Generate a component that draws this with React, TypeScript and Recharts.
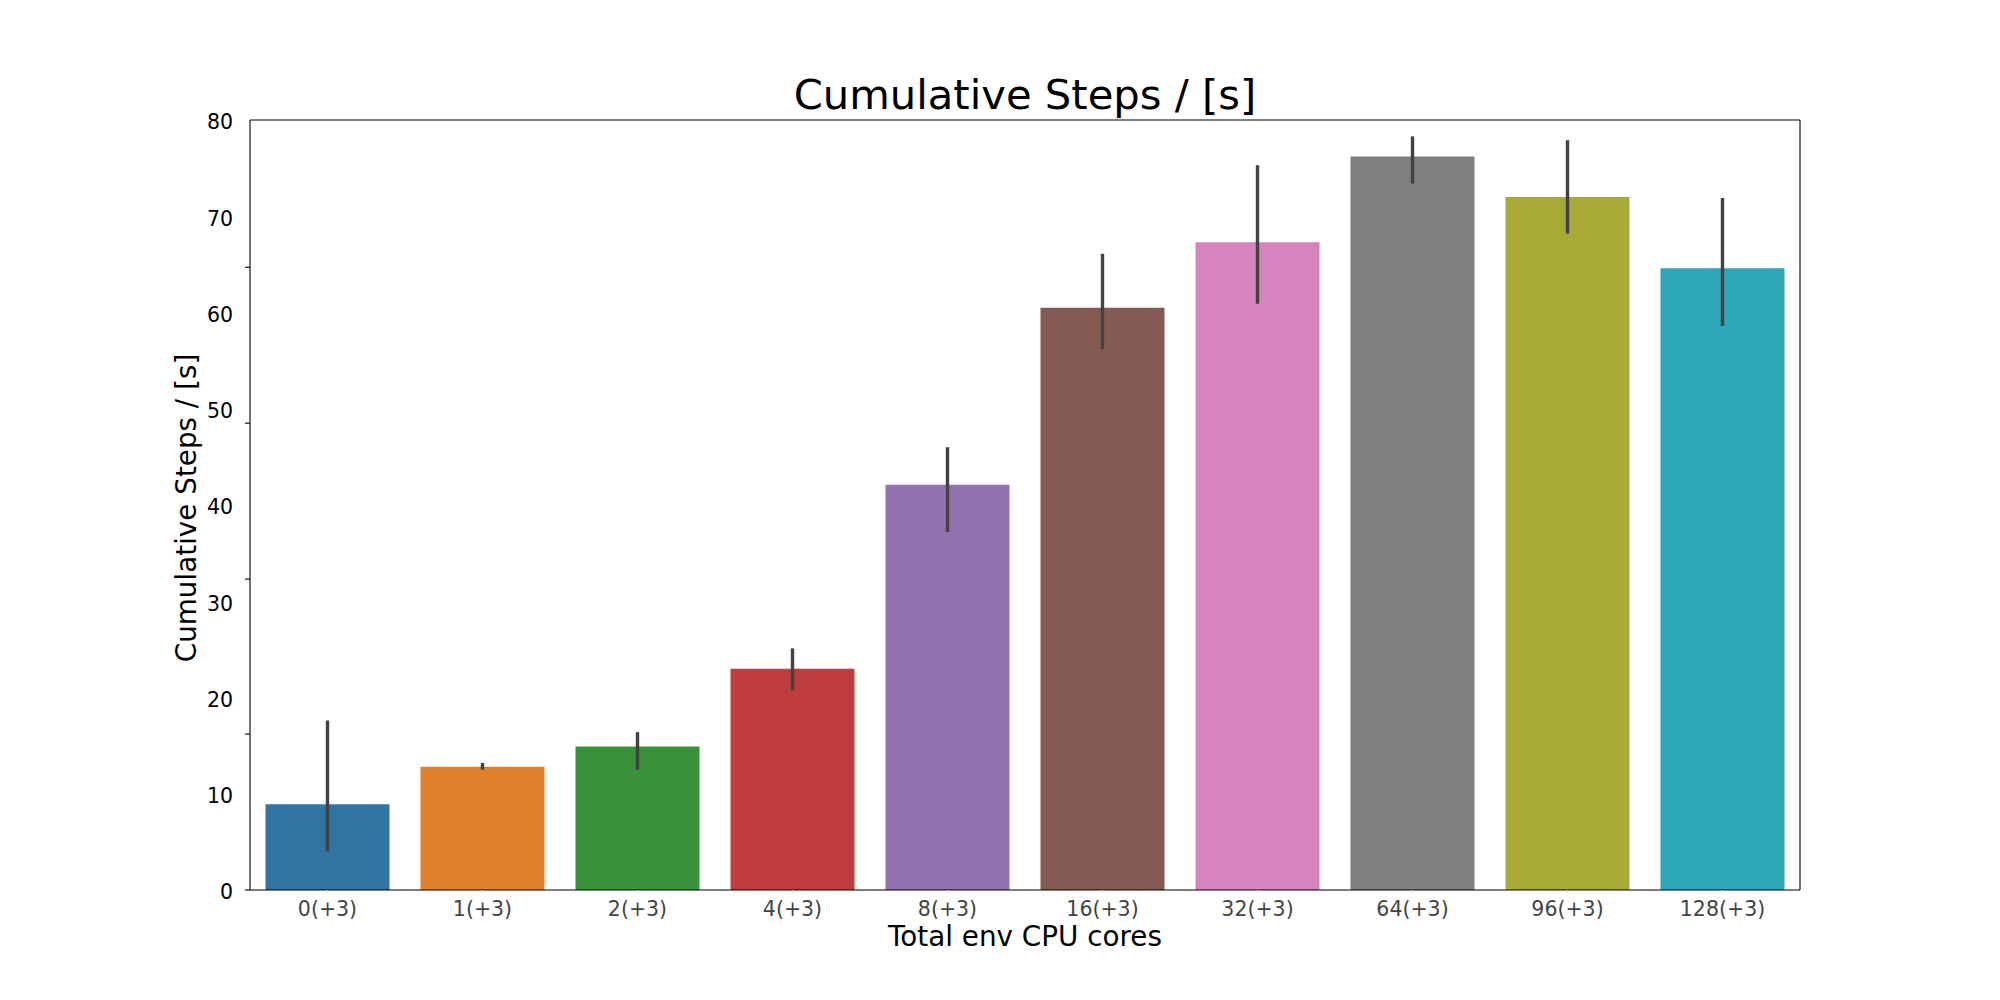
import React from "react";
import { Bar, BarChart, Cell, ErrorBar, Label, XAxis, YAxis } from "recharts";

const categories = [
  "0(+3)",
  "1(+3)",
  "2(+3)",
  "4(+3)",
  "8(+3)",
  "16(+3)",
  "32(+3)",
  "64(+3)",
  "96(+3)",
  "128(+3)",
];
const means = [8.9, 12.8, 14.9, 23.0, 42.1, 60.5, 67.3, 76.2, 72.0, 64.6];
const ciLow = [4.0, 12.5, 12.5, 20.7, 37.2, 56.2, 60.9, 73.4, 68.2, 58.6];
const ciHigh = [17.6, 13.2, 16.4, 25.1, 46.0, 66.1, 75.3, 78.3, 77.9, 71.9];
const colors = [
  "#3274a1",
  "#e1812c",
  "#3a923a",
  "#c03d3e",
  "#9372b2",
  "#845b53",
  "#d684bd",
  "#7f7f7f",
  "#a9aa35",
  "#2ea8b6",
];
// tick labels and tick marks sit at different values in the original figure
const yLabelTicks = [0, 10, 20, 30, 40, 50, 60, 70, 80];
const yMarkTicks = [0, 16.2, 32.3, 48.5, 64.7];

const FONT = "DejaVu Sans";

const data = categories.map((name, i) => ({
  name,
  value: means[i],
  err: [means[i] - ciLow[i], ciHigh[i] - means[i]],
}));

const allYTicks = Array.from(new Set([...yLabelTicks, ...yMarkTicks])).sort(
  (a, b) => a - b
);

const YTick = (props: any) => {
  const { x, y, payload } = props;
  const v = payload.value;
  return (
    <g>
      {yMarkTicks.includes(v) && (
        <line x1={x + 12} x2={x + 17} y1={y} y2={y} stroke="#000" strokeWidth={1.1} />
      )}
      {yLabelTicks.includes(v) && (
        <text
          x={x}
          y={y + 2}
          dy="0.355em"
          textAnchor="end"
          fontFamily={FONT}
          fontSize={20.5}
          fill="#000"
        >
          {v}
        </text>
      )}
    </g>
  );
};

const TitleLabel = (props: any) => {
  const vb = props.viewBox || { x: 250, y: 119, width: 1550, height: 1 };
  return (
    <text
      x={vb.x + vb.width / 2}
      y={vb.y + vb.height - 11}
      textAnchor="middle"
      fontFamily={FONT}
      fontSize={41.7}
      fill="#000"
    >
      Cumulative Steps / [s]
    </text>
  );
};

const XTitle = (props: any) => {
  const vb = props.viewBox || { x: 250, y: 890, width: 1550, height: 30 };
  return (
    <text
      x={vb.x + vb.width / 2}
      y={vb.y + vb.height + 26}
      textAnchor="middle"
      fontFamily={FONT}
      fontSize={27.8}
      fill="#000"
    >
      Total env CPU cores
    </text>
  );
};

const YTitle = (props: any) => {
  const vb = props.viewBox || { x: 190, y: 120, width: 60, height: 770 };
  const cx = vb.x + 6;
  const cy = vb.y + vb.height / 2 + 3;
  return (
    <text
      x={cx}
      y={cy}
      transform={`rotate(-90 ${cx} ${cy})`}
      textAnchor="middle"
      fontFamily={FONT}
      fontSize={27.8}
      fill="#000"
    >
      Cumulative Steps / [s]
    </text>
  );
};

const App = () => {
  return (
    <div
      style={{
        position: "absolute",
        left: 0,
        top: 0,
        width: 2000,
        height: 1000,
        background: "#fff",
        fontFamily: FONT,
      }}
    >
      <BarChart
        width={2000}
        height={1000}
        data={data}
        margin={{ top: 119, right: 199, bottom: 80, left: 190 }}
        barCategoryGap="10%"
      >
        <XAxis
          dataKey="name"
          height={30}
          interval={0}
          tickSize={3}
          tickMargin={8}
          tick={{ fill: "#444", fontSize: 20.5, fontFamily: FONT }}
          tickLine={{ stroke: "#d0d0d0" }}
          axisLine={{ stroke: "#000", strokeWidth: 1.1 }}
        >
          <Label content={XTitle} />
        </XAxis>
        <XAxis
          xAxisId="top"
          dataKey="name"
          orientation="top"
          height={1}
          tick={false}
          tickLine={false}
          axisLine={{ stroke: "#000", strokeWidth: 1.1 }}
        >
          <Label content={TitleLabel} />
        </XAxis>
        <YAxis
          domain={[0, 80]}
          ticks={allYTicks}
          interval={0}
          width={60}
          tickSize={5}
          tickMargin={12}
          tickLine={false}
          tick={<YTick />}
          axisLine={{ stroke: "#000", strokeWidth: 1.1 }}
        >
          <Label content={YTitle} />
        </YAxis>
        <YAxis
          yAxisId="right"
          orientation="right"
          domain={[0, 80]}
          width={1}
          tick={false}
          tickLine={false}
          axisLine={{ stroke: "#000", strokeWidth: 1.1 }}
        />
        <Bar dataKey="value" isAnimationActive={false}>
          {data.map((d, i) => (
            <Cell key={d.name} fill={colors[i]} />
          ))}
          <ErrorBar
            dataKey="err"
            direction="y"
            width={0}
            stroke="#424242"
            strokeWidth={3.4}
            isAnimationActive={false}
          />
        </Bar>
      </BarChart>
    </div>
  );
};

export default App;
